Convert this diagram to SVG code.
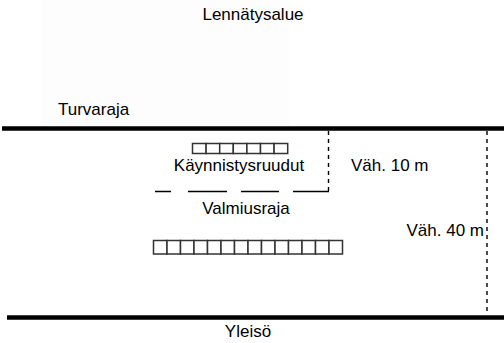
<svg xmlns="http://www.w3.org/2000/svg" width="504" height="343" viewBox="0 0 504 343">
<style>
text{font-family:"Liberation Sans",Arial,sans-serif;font-size:17px;fill:#000}
.thick{stroke:#000;stroke-width:4.5;fill:none}
.dot{stroke:#000;stroke-width:1.4;stroke-dasharray:4 4;fill:none}
.dash{stroke:#000;stroke-width:1.3;fill:none}
.box{stroke:#333;stroke-width:1.5;fill:#fff}
</style>
<rect x="0" y="0" width="504" height="343" fill="#fff"/>
<rect x="42" y="0" width="248" height="125" fill="#fdfdfd"/>
<g id="lennatysalue"><text x="253" y="20" text-anchor="middle">Lennätysalue</text></g>
<g id="turvaraja"><text x="58" y="115">Turvaraja</text></g>
<g id="connectors">
<line class="thick" x1="2" y1="128.5" x2="504" y2="128.5"/>
<line class="thick" x1="7" y1="317.5" x2="504" y2="317.5"/>
<line class="dot" x1="328.5" y1="131" x2="328.5" y2="191"/>
<line class="dot" x1="487" y1="131" x2="487" y2="315"/>
<path class="dash" d="M155 191.5H171M188 191.5H227M241 191.5H279M293 191.5H329"/>
</g>
<g id="kaynnistysruudut">
<g class="box">
<rect x="192.5" y="143.5" width="13.6" height="10"/><rect x="206.1" y="143.5" width="13.6" height="10"/><rect x="219.7" y="143.5" width="13.6" height="10"/><rect x="233.3" y="143.5" width="13.6" height="10"/><rect x="246.9" y="143.5" width="13.6" height="10"/><rect x="260.5" y="143.5" width="13.6" height="10"/><rect x="274.1" y="143.5" width="13.6" height="10"/>
</g>
<text x="239" y="171" text-anchor="middle">Käynnistysruudut</text>
</g>
<g id="vah10"><text x="351" y="171">Väh. 10 m</text></g>
<g id="valmiusraja"><text x="246" y="214" text-anchor="middle">Valmiusraja</text></g>
<g id="vah40"><text x="484" y="236" text-anchor="end">Väh. 40 m</text></g>
<g id="ruudut">
<g class="box">
<rect x="153.5" y="240.5" width="13.5" height="13.5"/><rect x="167" y="240.5" width="13.5" height="13.5"/><rect x="180.5" y="240.5" width="13.5" height="13.5"/><rect x="194" y="240.5" width="13.5" height="13.5"/><rect x="207.5" y="240.5" width="13.5" height="13.5"/><rect x="221" y="240.5" width="13.5" height="13.5"/><rect x="234.5" y="240.5" width="13.5" height="13.5"/><rect x="248" y="240.5" width="13.5" height="13.5"/><rect x="261.5" y="240.5" width="13.5" height="13.5"/><rect x="275" y="240.5" width="13.5" height="13.5"/><rect x="288.5" y="240.5" width="13.5" height="13.5"/><rect x="302" y="240.5" width="13.5" height="13.5"/><rect x="315.5" y="240.5" width="13.5" height="13.5"/><rect x="329" y="240.5" width="13.5" height="13.5"/>
</g>
</g>
<g id="yleiso"><text x="248" y="337" text-anchor="middle">Yleisö</text></g>
</svg>
